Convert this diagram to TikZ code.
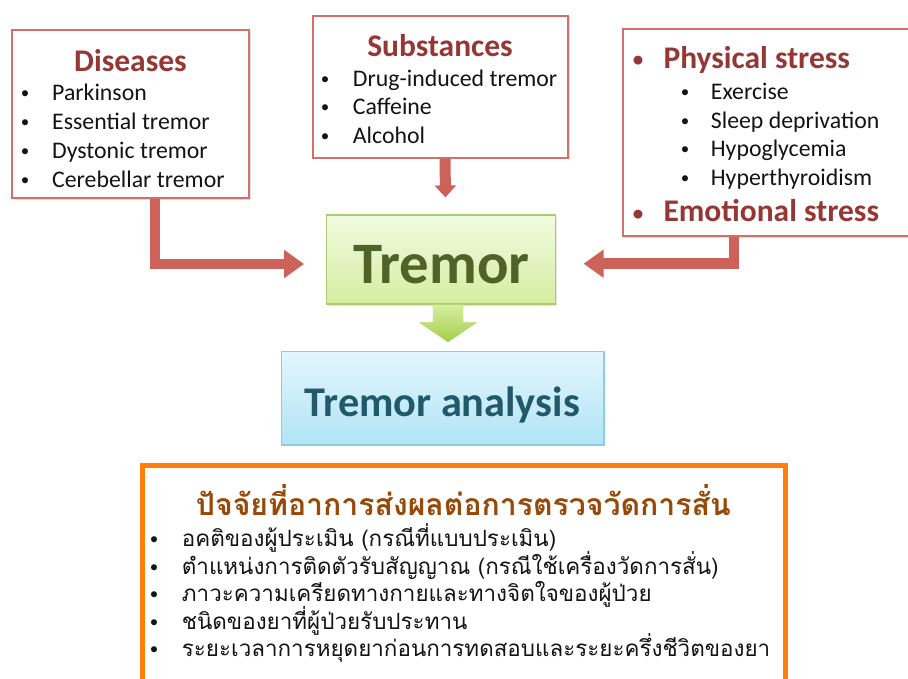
\documentclass[tikz,border=0pt]{standalone}
\usepackage{fontspec}
\setmainfont{Carlito}
\newfontfamily\thaifont[Script=Thai]{Loma}
\usetikzlibrary{arrows.meta,shadows,calc}
\definecolor{boxred}{RGB}{210,112,108}
\definecolor{arrowred}{RGB}{204,98,90}
\definecolor{titlered}{RGB}{149,55,53}
\definecolor{itemtext}{RGB}{20,20,20}
\definecolor{grtop}{RGB}{242,250,224}
\definecolor{grbot}{RGB}{212,238,160}
\definecolor{grborder}{RGB}{170,205,110}
\definecolor{grtext}{RGB}{79,98,40}
\definecolor{bltop}{RGB}{228,246,253}
\definecolor{blbot}{RGB}{176,228,246}
\definecolor{blborder}{RGB}{140,205,225}
\definecolor{bltext}{RGB}{33,89,104}
\definecolor{orangeC}{RGB}{255,128,8}
\definecolor{thaititle}{RGB}{152,72,7}
\definecolor{gatop}{RGB}{215,238,160}
\definecolor{gabot}{RGB}{165,205,75}
\tikzset{
  redbox/.style={draw=boxred, line width=2pt, fill=white,
    drop shadow={opacity=0.25, shadow xshift=1.5pt, shadow yshift=-1.5pt}},
  boxtitle/.style={font=\fontsize{31.5}{36}\selectfont\bfseries, text=titlered, inner sep=0pt, anchor=base},
  itemtxt/.style={font=\fontsize{23.8}{28}\selectfont, text=itemtext, inner sep=0pt, anchor=base west},
  bul/.style={font=\fontsize{17}{20}\selectfont, text=itemtext, inner sep=0pt, anchor=base, yshift=2pt},
  tbul/.style={font=\fontsize{21}{24}\selectfont\bfseries, text=titlered, inner sep=0pt, anchor=base, yshift=1.5pt},
  thaiitem/.style={font=\thaifont\fontsize{22.4}{26}\selectfont, text=itemtext, inner sep=0pt, anchor=base west},
  redarrow/.style={draw=arrowred, line width=10.5pt, -{Triangle[length=20pt,width=27pt]}},
}
\begin{document}
\begin{tikzpicture}[x=1pt,y=-1pt]
\clip (0,0) rectangle (908,678);
\fill[white] (0,0) rectangle (908,678);

% Diseases box
\node[redbox, minimum width=237pt, minimum height=168pt, inner sep=0pt] (dis) at (130.5,114) {};
\node[boxtitle] (dist) at (130.5,71) {Diseases};
\node[bul] (db1) at (25,100) {•};
\node[itemtxt] (d1) at (52,100) {Parkinson};
\node[bul] (db2) at (25,129) {•};
\node[itemtxt] (d2) at (52,129) {Essential tremor};
\node[bul] (db3) at (25,158) {•};
\node[itemtxt] (d3) at (52,158) {Dystonic tremor};
\node[bul] (db4) at (25,187) {•};
\node[itemtxt] (d4) at (52,187) {Cerebellar tremor};

% Substances box
\node[redbox, minimum width=255.6pt, minimum height=141.7pt, inner sep=0pt] (sub) at (440.5,86.8) {};
\node[boxtitle] (subt) at (440,56.7) {Substances};
\node[bul] (sb1) at (325,86) {•};
\node[itemtxt] (s1) at (352.7,86) {Drug-induced tremor};
\node[bul] (sb2) at (325,114.7) {•};
\node[itemtxt] (s2) at (352.7,114.7) {Caffeine};
\node[bul] (sb3) at (325,143.3) {•};
\node[itemtxt] (s3) at (352.7,143.3) {Alcohol};

% Stress box
\node[redbox, minimum width=292pt, minimum height=206.7pt, inner sep=0pt] (phys) at (768.7,132.65) {};
\node[tbul] (pb) at (638,68.3) {•};
\node[boxtitle, anchor=base west] (pt) at (663.3,68.3) {Physical stress};
\node[bul] (pb1) at (685,99) {•};
\node[itemtxt] (p1) at (710.7,99) {Exercise};
\node[bul] (pb2) at (685,128.3) {•};
\node[itemtxt] (p2) at (710.7,128.3) {Sleep deprivation};
\node[bul] (pb3) at (685,156.7) {•};
\node[itemtxt] (p3) at (710.7,156.7) {Hypoglycemia};
\node[bul] (pb4) at (685,185) {•};
\node[itemtxt] (p4) at (710.7,185) {Hyperthyroidism};
\node[tbul] (eb) at (638,221.7) {•};
\node[boxtitle, anchor=base west] (et) at (663.3,221.7) {Emotional stress};

% Tremor box
\node[draw=grborder, line width=1.2pt, top color=grtop, bottom color=grbot,
  minimum width=228.6pt, minimum height=89pt, inner sep=0pt,
  drop shadow={opacity=0.2, shadow xshift=1.5pt, shadow yshift=-1.5pt}] (tremor) at (441,259.5) {};
\node[font=\fontsize{58.7}{62}\selectfont\bfseries, text=grtext, inner sep=0pt, anchor=base] (tremt) at (441.5,283.3) {Tremor};

% Tremor analysis box
\node[draw=blborder, line width=1.2pt, top color=bltop, bottom color=blbot,
  minimum width=322.3pt, minimum height=93.3pt, inner sep=0pt,
  drop shadow={opacity=0.2, shadow xshift=1.5pt, shadow yshift=-1.5pt}] (anal) at (442.8,398.3) {};
\node[font=\fontsize{42.3}{46}\selectfont\bfseries, text=bltext, inner sep=0pt, anchor=base] (analt) at (442.3,416.7) {Tremor analysis};

% Arrows
\draw[redarrow] ([xshift=24.5pt]dis.south) |- ([xshift=-22pt,yshift=-4.5pt]tremor.west);
\draw[redarrow] ([xshift=-34.7pt]phys.south) |- ([xshift=27.7pt,yshift=-4.2pt]tremor.east);
\draw[draw=arrowred, line width=11pt, -{Triangle[length=12pt,width=21pt]}] ([xshift=4.5pt]sub.south) -- ([xshift=4.5pt,yshift=17pt]tremor.north);

\coordinate (g) at ([xshift=7pt]tremor.south);
\shade[top color=gatop, bottom color=gabot, draw=gabot!80!white, line width=0.3pt]
  ($(g)+(-15,0)$) -- ($(g)+(15,0)$) -- ($(g)+(15,18)$) -- ($(g)+(28.5,18)$) -- ($(g)+(0,37.5)$)
  -- ($(g)+(-28.5,18)$) -- ($(g)+(-15,18)$) -- cycle;

% Orange box
\node[draw=orangeC, line width=5pt, fill=white, minimum width=643pt, minimum height=280pt,
  inner sep=0pt, anchor=north west] (fac) at (140,463) {};
\node[font=\thaifont\fontsize{30.2}{34}\selectfont\bfseries, text=thaititle, inner sep=0pt, anchor=base] (fact) at (463.3,515.5) {ปัจจัยที่อาการส่งผลต่อการตรวจวัดการสั่น};
\node[bul] (fb1) at (154,546.5) {•};
\node[thaiitem] (f1) at (181.7,546.5) {อคติของผู้ประเมิน (กรณีที่แบบประเมิน)};
\node[bul] (fb2) at (154,574) {•};
\node[thaiitem] (f2) at (181.7,574) {ตำแหน่งการติดตัวรับสัญญาณ (กรณีใช้เครื่องวัดการสั่น)};
\node[bul] (fb3) at (154,601.5) {•};
\node[thaiitem] (f3) at (181.7,601.5) {ภาวะความเครียดทางกายและทางจิตใจของผู้ป่วย};
\node[bul] (fb4) at (154,629) {•};
\node[thaiitem] (f4) at (181.7,629) {ชนิดของยาที่ผู้ป่วยรับประทาน};
\node[bul] (fb5) at (154,656.5) {•};
\node[thaiitem] (f5) at (181.7,656.5) {ระยะเวลาการหยุดยาก่อนการทดสอบและระยะครึ่งชีวิตของยา};
\end{tikzpicture}
\end{document}
